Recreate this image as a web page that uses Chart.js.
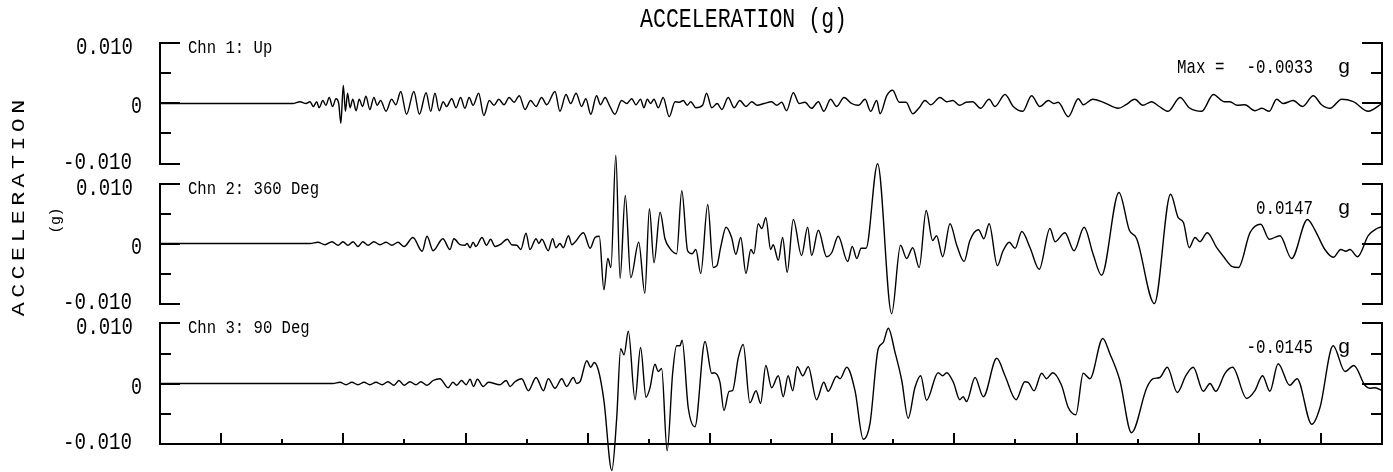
<!DOCTYPE html>
<html>
<head>
<meta charset="utf-8">
<title>Acceleration (g)</title>
<script src="https://cdn.jsdelivr.net/npm/chart.js@4.4.1/dist/chart.umd.min.js"></script>
<style>
    html, body { margin: 0; padding: 0; background: #fff; }
    #wrap { width: 1393px; height: 472px; }
</style>
</head>
<body>
<div id="wrap"><canvas id="accel-canvas" width="1393" height="472"></canvas></div>
<script>
// time (s), acceleration (g) pairs
const chn1 = [
    [0,0],[4.35,0],[4.58,0.0003],[4.78,0],[4.91,0.0003],[5.02,-0.0005],[5.13,0.0003],[5.21,-0.0007],[5.33,0.0005],[5.43,-0.0003],
    [5.54,0.001],[5.65,-0.0005],[5.76,0.0008],[5.85,0],[5.92,-0.0033],[6.00,0.003],[6.07,-0.0013],[6.14,0.0017],[6.22,-0.0007],[6.31,0.0007],
    [6.42,-0.0012],[6.52,0.0007],[6.63,-0.0005],[6.74,0.0012],[6.87,-0.001],[7.00,0.001],[7.11,-0.0003],[7.22,0.0005],[7.40,-0.0013],[7.58,0.0007],
    [7.72,-0.0002],[7.88,0.002],[8.07,-0.0018],[8.31,0.002],[8.49,-0.0018],[8.71,0.0018],[8.86,-0.0013],[9.00,0.0017],[9.14,-0.0012],[9.27,0.0003],
    [9.38,-0.0005],[9.55,0.0008],[9.69,-0.0007],[9.84,0.001],[9.98,-0.0008],[10.12,0.001],[10.25,-0.0003],[10.43,0.0017],[10.60,-0.002],[10.78,0.0005],
    [10.93,-0.0003],[11.09,0.0007],[11.26,-0.0002],[11.43,0.001],[11.59,0.0002],[11.76,0.0013],[11.95,-0.001],[12.13,0.0005],[12.31,-0.0005],[12.49,0.001],
    [12.66,-0.0002],[12.93,0.002],[13.09,-0.0013],[13.29,0.0015],[13.44,0],[13.62,0.0017],[13.80,-0.0005],[13.94,0.0008],[14.10,-0.0018],[14.29,0.0013],
    [14.42,-0.0002],[14.57,0.001],[14.71,-0.0003],[14.89,-0.0018],[15.11,0.0005],[15.28,0],[15.44,0.0008],[15.58,-0.0002],[15.73,0.0007],[15.84,-0.0007],
    [15.95,0.0007],[16.06,0],[16.17,0.0007],[16.31,-0.0007],[16.47,0.001],[16.67,-0.0022],[16.86,0.0003],[17.00,0.0002],[17.13,0.0005],[17.26,-0.0003],
    [17.37,0.0003],[17.54,-0.0007],[17.76,-0.0003],[17.89,0.0017],[18.06,-0.0007],[18.24,0],[18.39,-0.001],[18.60,0.001],[18.79,-0.0007],[18.98,0.0005],
    [19.18,-0.0005],[19.37,0.0003],[19.55,-0.0003],[19.77,0],[20.02,0.0003],[20.19,-0.0003],[20.35,0.0002],[20.51,-0.0012],[20.73,0.0018],[20.92,0],
    [21.11,0.0002],[21.33,-0.0008],[21.55,0.0003],[21.73,-0.0013],[21.95,0.0007],[22.15,-0.0005],[22.39,0.001],[22.64,0],[22.86,-0.0003],[23.08,0.0007],
    [23.26,-0.0013],[23.46,0.0005],[23.57,-0.0017],[23.79,0.0013],[23.98,0.0022],[24.20,0.0002],[24.42,0.0002],[24.64,-0.0017],[24.85,-0.0007],[25.04,0.0005],
    [25.23,-0.0002],[25.53,0.001],[25.75,0.0003],[25.95,0.0005],[26.18,-0.0003],[26.38,0.0002],[26.60,0.0003],[26.86,-0.0008],[27.14,0.0007],[27.33,-0.0005],
    [27.66,0.0015],[27.93,-0.0005],[28.24,-0.0013],[28.53,0.0013],[28.80,-0.0005],[29.08,0.0005],[29.26,0],[29.40,0.0002],[29.73,-0.0022],[30.06,0.0008],
    [30.22,-0.0002],[30.53,0.0007],[30.88,0.0002],[31.37,-0.0008],[31.62,-0.0002],[31.91,0.0007],[32.17,-0.0003],[32.46,0.0003],[32.71,-0.0005],[33.00,-0.0013],
    [33.39,0.001],[33.69,-0.0007],[34.10,-0.0013],[34.48,0.0015],[34.83,0.0003],[35.02,0.0003],[35.26,-0.0003],[35.51,-0.0002],[35.84,-0.0012],[36.07,-0.0008],
    [36.31,-0.0013],[36.55,0.0007],[36.77,0],[37.09,0.0005],[37.40,-0.0005],[37.75,0.0013],[38.02,-0.0002],[38.30,-0.0008],[38.68,0.0007],[39.06,0.0003],
    [39.55,-0.0013],[40,0]
];

const chn2 = [
    [0,0],[4.91,0],[5.17,0.0002],[5.40,-0.0002],[5.63,0.0003],[5.83,-0.0003],[5.99,0.0003],[6.15,-0.0003],[6.32,0.0003],[6.48,-0.0005],
    [6.64,0.0003],[6.81,-0.0003],[7.00,0.0003],[7.20,-0.0002],[7.40,0.0002],[7.59,-0.0003],[7.79,0.0002],[7.99,-0.0005],[8.28,0.001],[8.58,-0.0013],
    [8.74,0.0012],[8.94,-0.0012],[9.26,0.0008],[9.49,-0.001],[9.62,0.0008],[9.82,-0.0002],[9.98,-0.0003],[10.05,0],[10.15,-0.0007],[10.25,0.0002],
    [10.34,-0.0005],[10.54,0.001],[10.69,-0.0003],[10.82,0.0007],[10.97,-0.0005],[11.13,-0.0002],[11.37,0.0007],[11.51,-0.0002],[11.68,-0.0003],[11.81,-0.001],
    [11.98,0.0017],[12.11,-0.001],[12.31,0.0008],[12.40,0],[12.50,0.0007],[12.71,-0.0012],[12.85,0.0008],[12.96,-0.0007],[13.09,0],[13.20,-0.0007],
    [13.37,0.0013],[13.48,-0.0002],[13.58,0.0002],[13.86,0.0018],[14.08,-0.0008],[14.24,0.001],[14.38,0.0012],[14.53,-0.0077],[14.66,-0.0025],[14.76,-0.004],
    [14.92,0.0147],[15.06,-0.0058],[15.23,0.008],[15.41,-0.0057],[15.67,0.0002],[15.87,-0.0083],[16.02,0.0058],[16.17,-0.0032],[16.37,0.0052],[16.53,0.0008],
    [16.69,-0.0008],[16.91,-0.0017],[17.08,0.0088],[17.27,-0.0012],[17.42,-0.0017],[17.54,-0.001],[17.70,-0.005],[17.93,0.0065],[18.11,-0.004],[18.23,-0.0037],
    [18.35,-0.0007],[18.53,0.0027],[18.71,0.001],[18.85,-0.0018],[19.01,0.001],[19.18,-0.005],[19.34,-0.001],[19.44,-0.0017],[19.58,0.0033],[19.70,0.0025],
    [19.83,0.0043],[19.99,-0.001],[20.07,-0.0002],[20.24,-0.0028],[20.38,0.001],[20.53,-0.0048],[20.73,0.004],[21.00,-0.002],[21.20,0.0027],[21.33,-0.002],
    [21.55,0.0022],[21.82,-0.0022],[21.99,-0.0015],[22.20,0.0012],[22.51,-0.003],[22.66,-0.0005],[22.81,-0.0025],[22.95,-0.0008],[23.11,-0.0008],[23.49,0.0133],
    [23.95,-0.0117],[24.24,-0.0003],[24.44,-0.0025],[24.64,-0.0007],[24.85,-0.004],[25.08,0.0055],[25.29,0.0005],[25.42,0.0013],[25.62,-0.0022],[25.86,0.0033],
    [26.08,-0.0003],[26.32,-0.003],[26.51,0.0005],[26.79,0.0023],[26.97,0.0008],[27.14,0.0033],[27.41,-0.0037],[27.59,-0.0013],[27.80,0.0002],[27.99,-0.0008],
    [28.21,0.002],[28.48,-0.0007],[28.78,-0.0043],[29.13,0.0025],[29.30,0.0003],[29.62,0.0018],[29.92,-0.0012],[30.25,0.0027],[30.54,-0.0017],[30.82,-0.0053],
    [31.39,0.0085],[31.73,0.0022],[31.97,0.0008],[32.55,-0.01],[33.08,0.0082],[33.33,0.0043],[33.50,0.0035],[33.69,-0.0007],[33.88,0.001],[34.04,0.0003],
    [34.28,0.0018],[34.59,-0.0007],[34.83,-0.0023],[35.08,-0.0038],[35.30,-0.004],[35.68,0.0018],[36.03,0.0032],[36.31,0.0007],[36.66,0.0013],[37.04,-0.0025],
    [37.56,0.004],[37.81,0.0022],[38.13,-0.001],[38.41,-0.0023],[38.65,-0.001],[38.82,-0.0013],[38.95,-0.001],[39.20,-0.0022],[39.55,0.0013],[39.83,0.0025],
    [40,0.0028]
];

const chn3 = [
    [0,0],[5.66,0],[5.89,0.0002],[6.09,-0.0002],[6.28,0.0002],[6.48,-0.0002],[6.68,0.0002],[6.87,-0.0002],[7.07,0.0002],[7.27,-0.0002],
    [7.46,0.0003],[7.66,-0.0003],[7.82,0.0005],[7.99,-0.0003],[8.18,0.0003],[8.38,-0.0002],[8.54,0.0003],[8.74,-0.0003],[8.94,0.0005],[9.16,0.0008],
    [9.43,-0.0007],[9.59,0.0002],[9.71,-0.0003],[9.87,0.0005],[10.02,-0.0002],[10.15,0.0007],[10.26,-0.0005],[10.39,0.0007],[10.58,-0.0005],[10.75,0.0002],
    [11.13,-0.0002],[11.33,0.0005],[11.46,-0.0005],[11.62,0.0003],[11.84,0.0008],[12.06,-0.0012],[12.31,0.001],[12.55,-0.0012],[12.71,0.0008],[12.93,-0.0008],
    [13.15,0.0008],[13.31,-0.0005],[13.53,0.001],[13.64,0],[13.75,0.0003],[13.97,0.0038],[14.10,0.0027],[14.21,0.0035],[14.35,0.0022],[14.53,-0.0028],
    [14.79,-0.0145],[14.95,-0.0057],[15.08,0.0058],[15.19,0.0048],[15.33,0.0087],[15.55,-0.0027],[15.73,0.006],[15.91,-0.0023],[16.04,-0.0007],[16.20,0.0032],
    [16.31,0.002],[16.42,0.0025],[16.60,-0.0112],[16.78,0.0017],[16.91,0.0063],[17.02,0.0063],[17.09,0.0072],[17.29,-0.004],[17.51,-0.0072],[17.84,0.007],
    [18.06,0.0017],[18.14,0.0018],[18.33,0.0002],[18.46,-0.0045],[18.63,-0.0013],[18.74,-0.0012],[18.93,0.0043],[19.09,0.0065],[19.31,-0.0032],[19.51,-0.0012],
    [19.66,-0.0033],[19.83,0.003],[20.02,-0.0007],[20.24,0.0013],[20.40,-0.0022],[20.56,0.0013],[20.71,-0.0012],[20.86,0.0028],[21.04,0.0013],[21.22,0.0028],
    [21.49,-0.0027],[21.73,0.0002],[21.87,-0.0013],[22.15,0.0012],[22.26,0.0008],[22.48,0.0027],[22.75,-0.0012],[23.02,-0.0093],[23.24,-0.0067],[23.51,0.0058],
    [23.67,0.0068],[23.84,0.0092],[24.06,0.0052],[24.28,0.0005],[24.49,-0.0058],[24.71,-0.0007],[24.90,0.0013],[25.09,-0.0028],[25.47,0.0018],[25.62,0.0013],
    [25.75,0.0018],[25.97,0.0002],[26.18,-0.0027],[26.29,-0.0022],[26.40,-0.003],[26.68,0.001],[26.95,-0.0022],[27.39,0.0042],[27.66,0.0013],[28.02,-0.0027],
    [28.31,0.0003],[28.42,0.0002],[28.61,-0.0012],[28.86,0.0017],[29.02,0.0008],[29.22,0.0018],[29.51,-0.0003],[29.73,-0.004],[29.98,-0.0052],[30.22,0.0017],
    [30.44,0.0008],[30.86,0.0075],[31.09,0.005],[31.42,0.0005],[31.80,-0.0082],[32.30,-0.0007],[32.51,0.0008],[32.73,0.001],[32.97,0.0027],[33.30,-0.0015],
    [33.58,0.0013],[33.82,0.0027],[34.15,-0.0013],[34.37,0],[34.56,-0.0013],[34.86,0.0017],[35.11,0.0027],[35.57,-0.0025],[35.84,-0.0012],[36.09,0.0013],
    [36.33,-0.0013],[36.60,0.0033],[36.98,-0.0003],[37.22,0.0008],[37.70,-0.0068],[37.97,-0.004],[38.40,0.0063],[38.79,0.002],[39.08,0.003],[39.44,-0.0003],
    [39.60,-0.0008],[39.77,-0.0007],[40,-0.0012]
];

const channelNames = ["Chn 1: Up", "Chn 2: 360 Deg", "Chn 3: 90 Deg"];
const peakPrefix = ["Max =", "", ""];
const peakValues = ["-0.0033", "0.0147", "-0.0145"];

const yTickValues = [0.010, 0.005, 0, -0.005, -0.010];
const yTickLabels = ["0.010", "", "0", "", "-0.010"];
const xTickTimes = [2, 4, 6, 8, 10, 12, 14, 16, 18, 20, 22, 24, 26, 28, 30, 32, 34, 36, 38];

const TIME_START = 0;
const TIME_END = 40;

// layout / style
const CANVAS_H = 472;
const PANEL_TOP = [43.5, 183.5, 323.5];
const PANEL_H = 120;
const Y_TICK_LEN = [20, 11, 20, 11, 20];
const Y_LABEL_RIGHT = [133, 0, 142, 0, 132];
const Y_LABEL_DY = [11, 0, 9.5, 0, 4.5];
const Y_LABEL_WIDTH = [57, 0, 11, 0, 69];
const MONO = '"Liberation Mono", "DejaVu Sans Mono", monospace';

function panelRange(i) {
    // value per pixel, so +-0.010 lands on the panel frame
    let k = 0.02 / PANEL_H;
    return {
        min: -0.01 - (CANVAS_H - PANEL_TOP[i] - PANEL_H) * k,
        max: 0.01 + PANEL_TOP[i] * k
    };
}

function seg(ctx, x1, y1, x2, y2) {
    ctx.beginPath();
    ctx.moveTo(x1, y1);
    ctx.lineTo(x2, y2);
    ctx.stroke();
}

function spacedVertical(ctx, str, cx, cy, cell, font, stretch) {
    ctx.save();
    ctx.translate(cx, cy);
    ctx.rotate(-Math.PI / 2);
    ctx.font = font;
    ctx.textAlign = "center";
    ctx.textBaseline = "alphabetic";
    let start = -cell * (str.length - 1) / 2;
    for (let i = 0; i < str.length; i++) {
        ctx.save();
        ctx.translate(start + i * cell, 0);
        ctx.scale(stretch, 1);
        ctx.fillText(str[i], 0, 0);
        ctx.restore();
    }
    ctx.restore();
}

const framePlugin = {
    id: "frame",
    afterDatasetsDraw(chart) {
        const ctx = chart.ctx;
        const xs = chart.scales.x;
        const left = Math.round(xs.getPixelForValue(TIME_START));
        const right = Math.round(xs.getPixelForValue(TIME_END));

        ctx.save();
        ctx.strokeStyle = "#000";
        ctx.fillStyle = "#000";
        ctx.lineWidth = 2;
        ctx.textBaseline = "alphabetic";

        let axisY = 0;

        channelNames.forEach((name, i) => {
            const ys = chart.scales["y" + (i + 1)];
            const top = Math.round(ys.getPixelForValue(yTickValues[0]));
            const bottom = Math.round(ys.getPixelForValue(yTickValues[yTickValues.length - 1]));
            axisY = bottom;

            seg(ctx, left, top - 1, left, bottom + 1);
            seg(ctx, right, top - 1, right, bottom + 1);

            yTickValues.forEach((v, j) => {
                const py = Math.round(ys.getPixelForValue(v));
                seg(ctx, left - 1, py, left + Y_TICK_LEN[j], py);
                seg(ctx, right - Y_TICK_LEN[j], py, right + 1, py);
                if (yTickLabels[j]) {
                    ctx.font = "24px " + MONO;
                    ctx.textAlign = "right";
                    ctx.fillText(yTickLabels[j], Y_LABEL_RIGHT[j], py + Y_LABEL_DY[j], Y_LABEL_WIDTH[j]);
                }
            });

            ctx.font = "19px " + MONO;
            ctx.textAlign = "left";
            ctx.fillText(name, left + 28, top + 9.5, name.length * 9.36);

            ctx.font = "21px " + MONO;
            if (peakPrefix[i]) {
                ctx.textAlign = "left";
                ctx.fillText(peakPrefix[i], 1177, top + 30, peakPrefix[i].length * 9.5);
            }
            ctx.textAlign = "right";
            ctx.fillText(peakValues[i], 1313, top + 30, peakValues[i].length * 9.5);
            ctx.textAlign = "center";
            ctx.fillText("g", 1344, top + 30);
        });

        // time axis under the last panel
        seg(ctx, left - 1, axisY, right + 1, axisY);
        xTickTimes.forEach((t) => {
            const px = Math.round(xs.getPixelForValue(t));
            const len = (t / 2) % 2 === 1 ? 11 : 5;
            seg(ctx, px, axisY, px, axisY - len);
        });

        ctx.font = "27px " + MONO;
        ctx.textAlign = "center";
        ctx.fillText("ACCELERATION (g)", 743.5, 27, 207);

        spacedVertical(ctx, "ACCELERATION", 24, 208, 18.4, "18px " + MONO, 1.3);
        spacedVertical(ctx, "(g)", 60, 220.5, 8.4, "15px " + MONO, 1);

        ctx.restore();
    }
};

function traceDataset(points, axisId) {
    return {
        data: points.map(p => ({x: p[0], y: p[1]})),
        yAxisID: axisId,
        borderColor: "#000",
        borderWidth: 1.4,
        borderJoinStyle: "round",
        pointRadius: 0,
        cubicInterpolationMode: "monotone",
        fill: false,
        clip: false
    };
}

const ctx = document.getElementById("accel-canvas");

new Chart(ctx, {
    type: "line",
    data: {
        datasets: [
            traceDataset(chn1, "y1"),
            traceDataset(chn2, "y2"),
            traceDataset(chn3, "y3")
        ]
    },
    options: {
        responsive: false,
        animation: false,
        events: [],
        layout: {
            padding: {left: 160, right: 11, top: 0, bottom: 0}
        },
        plugins: {
            legend: {display: false},
            tooltip: {enabled: false},
            title: {display: false}
        },
        scales: {
            x: {type: "linear", min: TIME_START, max: TIME_END, display: false},
            y1: Object.assign({type: "linear", display: false}, panelRange(0)),
            y2: Object.assign({type: "linear", display: false}, panelRange(1)),
            y3: Object.assign({type: "linear", display: false}, panelRange(2))
        }
    },
    plugins: [framePlugin]
});
</script>
</body>
</html>
